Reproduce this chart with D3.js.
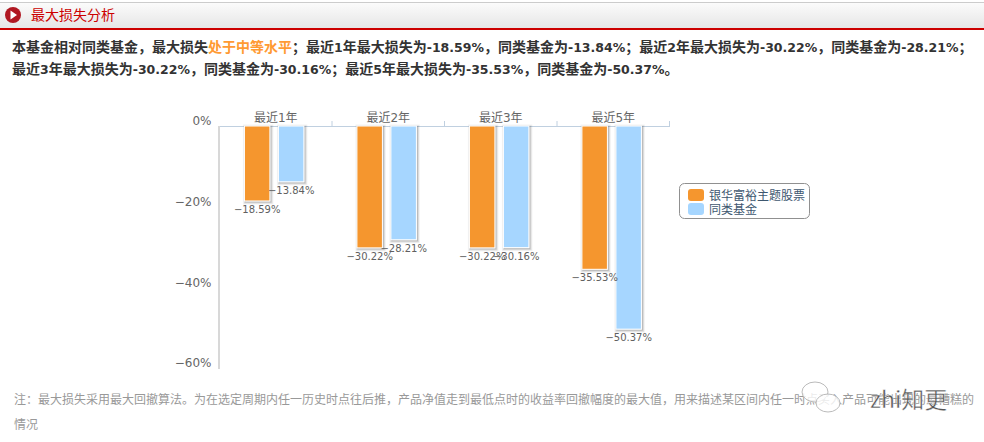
<!DOCTYPE html>
<html>
<head>
<meta charset="utf-8">
<script src="https://cdn.jsdelivr.net/npm/d3@7"></script>
<style>
body { margin: 0; background: #fff; }
svg { display: block; font-family: "DejaVu Sans", "Noto Sans CJK SC", sans-serif; }
.cjk { font-family: "Noto Sans CJK SC", sans-serif; }
</style>
</head>
<body>
<svg width="984" height="442"></svg>
<script>
let width = 984, height = 442;

const categories = ["最近1年", "最近2年", "最近3年", "最近5年"];
const seriesNames = ["银华富裕主题股票", "同类基金"];
const fundValues = [-18.59, -30.22, -30.22, -35.53];
const peerValues = [-13.84, -28.21, -30.16, -50.37];
const seriesColors = ["#F5962E", "#A6D6FF"];
const yTicks = [0, -20, -40, -60];

const sectionTitle = "最大损失分析";
const line1 = [
    ["本基金相对同类基金，最大损失", "#333"],
    ["处于中等水平", "#FF9A33"],
    ["；最近1年最大损失为-18.59%，同类基金为-13.84%；最近2年最大损失为-30.22%，同类基金为-28.21%；", "#333"]
];
const line2 = "最近3年最大损失为-30.22%，同类基金为-30.16%；最近5年最大损失为-35.53%，同类基金为-50.37%。";
const note1 = "注：最大损失采用最大回撤算法。为在选定周期内任一历史时点往后推，产品净值走到最低点时的收益率回撤幅度的最大值，用来描述某区间内任一时点买入产品可能出现的最糟糕的";
const note2 = "情况";

let svg = d3.select("svg").attr("viewBox", "0 0 " + width + " " + height);

// header bar
let defs = svg.append("defs");
let grad = defs.append("linearGradient").attr("id", "head").attr("x1", 0).attr("x2", 0).attr("y1", 0).attr("y2", 1);
grad.append("stop").attr("offset", 0).attr("stop-color", "#fcfcfc");
grad.append("stop").attr("offset", 1).attr("stop-color", "#e6e6e6");

svg.append("rect").attr("x", 0).attr("y", 2).attr("width", width).attr("height", 26).attr("fill", "url(#head)");
svg.append("rect").attr("x", 0).attr("y", 2).attr("width", width).attr("height", 1).attr("fill", "#ccc");
svg.append("rect").attr("x", 0).attr("y", 28).attr("width", width).attr("height", 2).attr("fill", "#CC0000");
svg.append("circle").attr("cx", 13).attr("cy", 15).attr("r", 8).attr("fill", "#B01822");
svg.append("path").attr("d", "M10.5,10.5L17,15L10.5,19.5Z").attr("fill", "#fff");
svg.append("text").attr("class", "cjk").attr("x", 31).attr("y", 20).attr("font-size", 14).attr("fill", "#CC0000").text(sectionTitle);

// summary text, numbers are a touch smaller than the chinese
function addRuns(sel, str, color) {
    str.split(/([0-9.%-]+)/).forEach(s => {
        if (s) sel.append("tspan").attr("fill", color).attr("font-size", /^[0-9.%-]+$/.test(s) ? 12.5 : 14).text(s);
    });
}
let t1 = svg.append("text").attr("x", 12).attr("y", 52).attr("font-weight", "bold");
line1.forEach(d => addRuns(t1, d[0], d[1]));
let t2 = svg.append("text").attr("x", 12).attr("y", 74).attr("font-weight", "bold");
addRuns(t2, line2, "#333");

// scales
let x = d3.scaleBand().domain(categories).range([219.5, 669.5]);
let xInner = d3.scaleBand().domain([0, 1]).range([0, x.bandwidth()]).paddingInner(0.25).paddingOuter(0.78).align(0.47);
let y = d3.scaleLinear().domain([0, -60]).range([126, 368]);

// y axis, labels sit above their value like the original
let yAxis = svg.append("g").attr("transform", "translate(219.5,0)")
    .call(d3.axisLeft(y).tickValues(yTicks).tickSize(0).tickPadding(8).tickFormat(d => (d < 0 ? "−" + (-d) : d) + "%"));
yAxis.select(".domain").remove();
yAxis.selectAll("text").attr("font-family", "DejaVu Sans").attr("font-size", 12).attr("fill", "#666").attr("dy", "0.32em");
yAxis.selectAll("text").attr("transform", "translate(0,-5)");
svg.append("line").attr("x1", 219).attr("x2", 219).attr("y1", 126).attr("y2", 369).attr("stroke", "#d8d8d8").attr("stroke-width", 2);

// x axis sits on top with ticks between the groups
let xAxis = svg.append("g").attr("transform", "translate(0,126)")
    .call(d3.axisTop(x).tickSize(0).tickPadding(4));
xAxis.select(".domain").attr("stroke", "#C0D0E0");
xAxis.selectAll("text").attr("font-family", "DejaVu Sans, Noto Sans CJK SC").attr("font-size", 12).attr("fill", "#666");
svg.append("g").selectAll("line").data(categories).enter().append("line")
    .attr("x1", d => x(d) + x.step()).attr("x2", d => x(d) + x.step())
    .attr("y1", 121).attr("y2", 126).attr("stroke", "#C0D0E0");

// bars
[fundValues, peerValues].forEach((values, s) => {
    let g = svg.append("g");
    let bars = g.selectAll("g").data(values).enter().append("g");
    [5, 3, 1].forEach((w, i) => {
        bars.append("rect")
            .attr("x", (d, j) => x(categories[j]) + xInner(s) + 1)
            .attr("y", y(0) + 1)
            .attr("width", xInner.bandwidth())
            .attr("height", d => y(d) - y(0))
            .attr("fill", "none")
            .attr("stroke", "#000")
            .attr("stroke-opacity", [0.05, 0.1, 0.15][i])
            .attr("stroke-width", w);
    });
    bars.append("rect")
        .attr("x", (d, j) => x(categories[j]) + xInner(s))
        .attr("y", y(0))
        .attr("width", xInner.bandwidth())
        .attr("height", d => y(d) - y(0))
        .attr("fill", seriesColors[s])
        .attr("stroke", "#fff");
});

// value labels go on top of all bars
[fundValues, peerValues].forEach((values, s) => {
    svg.append("g").selectAll("text").data(values).enter().append("text")
        .attr("x", (d, j) => x(categories[j]) + xInner(s) + xInner.bandwidth() / 2)
        .attr("y", d => y(d) + 12)
        .attr("text-anchor", "middle")
        .attr("font-size", 10)
        .attr("fill", "#606060")
        .text(d => "−" + Math.abs(d).toFixed(2) + "%");
});

// legend
svg.append("rect").attr("x", 679.5).attr("y", 183.5).attr("width", 130).attr("height", 35).attr("rx", 5)
    .attr("fill", "#fff").attr("stroke", "#909090");
let leg = svg.append("g").selectAll("g").data(seriesNames).enter().append("g")
    .attr("transform", (d, i) => "translate(688," + (189 + i * 14) + ")");
leg.append("rect").attr("width", 16).attr("height", 12).attr("rx", 3).attr("fill", (d, i) => seriesColors[i]);
leg.append("text").attr("class", "cjk").attr("x", 21).attr("y", 11).attr("font-size", 12).attr("fill", "#3E576F").text(d => d);

// footnote
svg.append("text").attr("class", "cjk").attr("x", 14).attr("y", 404).attr("font-size", 12).attr("fill", "#999").text(note1);
svg.append("text").attr("class", "cjk").attr("x", 14).attr("y", 429).attr("font-size", 12).attr("fill", "#999").text(note2);

// watermark
let wm = svg.append("g").attr("fill", "#fff").attr("stroke", "#bbb");
wm.append("ellipse").attr("cx", 815).attr("cy", 392).attr("rx", 13).attr("ry", 10).attr("fill-opacity", 0.8);
wm.append("ellipse").attr("cx", 828).attr("cy", 403).attr("rx", 12).attr("ry", 9).attr("fill-opacity", 0.8);
svg.append("text").attr("class", "cjk").attr("x", 870).attr("y", 408).attr("font-size", 23)
    .attr("fill", "#555").attr("stroke", "#fff").attr("stroke-width", 0.4).text("zhi知更");
</script>
</body>
</html>
